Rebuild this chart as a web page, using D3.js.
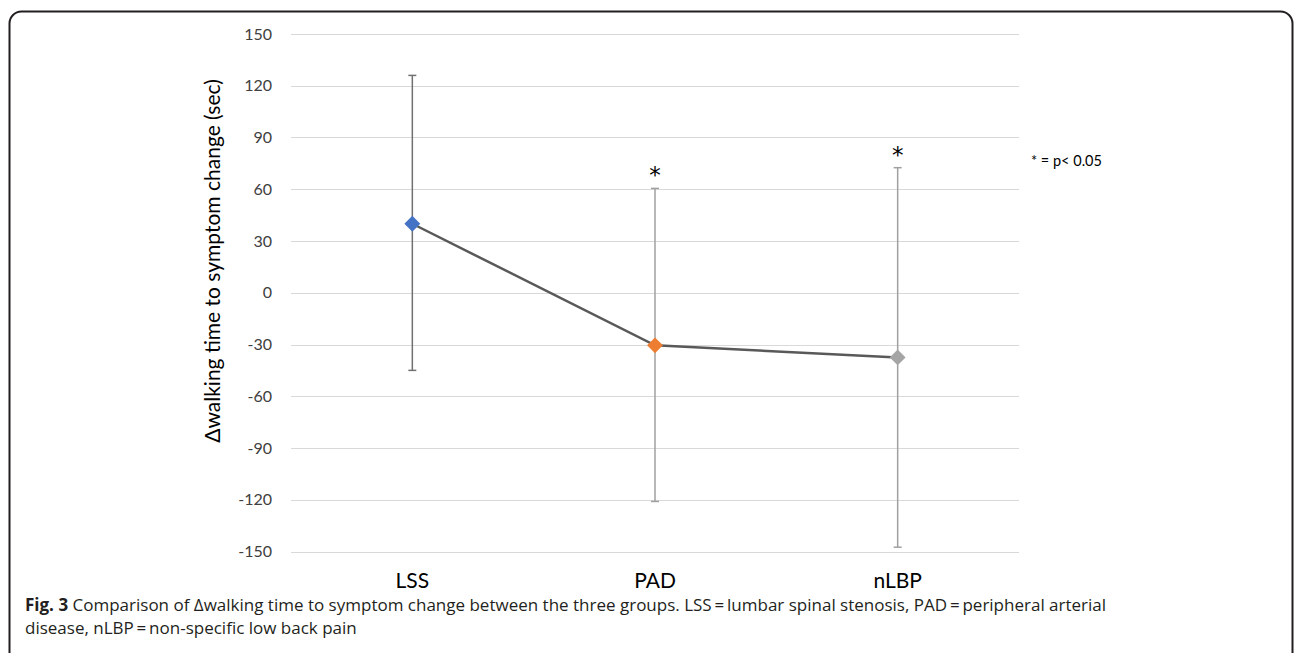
<!DOCTYPE html>
<html>
<head>
<meta charset="utf-8">
<script src="https://cdn.jsdelivr.net/npm/d3@7"></script>
<style>
 body { margin: 0; background: #fff; }
 svg { display: block; }
</style>
</head>
<body>
<div id="chart"></div>
<script>
// groups and their mean / error bar ends (sec)
var groups = ['LSS', 'PAD', 'nLBP'];
var means = [40, -30.5, -37.5];
var errHigh = [126, 60.5, 72.5];
var errLow = [-45, -121, -147.5];
var signif = [false, true, true];
var markerColors = ['#4472C4', '#ED7D31', '#A5A5A5'];
var yTicks = [150, 120, 90, 60, 30, 0, -30, -60, -90, -120, -150];

var width = 1295, height = 653;
var plot = {left: 291, right: 1019, top: 34, bottom: 551.5};
var chartFont = 'Lato, "Open Sans", sans-serif';

var svg = d3.select('#chart').append('svg')
 .attr('width', width)
 .attr('height', height);

// rounded frame, open at the bottom edge of the picture
svg.append('rect')
 .attr('x', 9.5).attr('y', 11.5)
 .attr('width', 1283).attr('height', 700)
 .attr('rx', 12).attr('ry', 12)
 .style('fill', 'none').style('stroke', '#231f20').style('stroke-width', 2);

var x = d3.scaleBand().domain(groups).range([plot.left, plot.right]);
var y = d3.scaleLinear().domain([-150, 150]).range([plot.bottom, plot.top]);

// gridlines + tick labels (plain hyphen for negatives, as in the original)
var yAxis = d3.axisLeft(y).tickValues(yTicks).tickSize(0).tickPadding(19)
 .tickFormat(function(d){ return String(d); });
var gy = svg.append('g').attr('transform', 'translate(' + plot.left + ',0)').call(yAxis);
gy.select('.domain').remove();
gy.selectAll('text').style('font-family', chartFont).style('font-size', '16px').style('fill', '#404040');

svg.append('g').selectAll('line').data(yTicks).enter().append('line')
 .attr('x1', plot.left).attr('x2', plot.right)
 .attr('y1', function(d){ return Math.round(y(d)) + 0.5; })
 .attr('y2', function(d){ return Math.round(y(d)) + 0.5; })
 .style('stroke', '#d9d9d9').style('stroke-width', 1.2);

// category labels
var xAxis = d3.axisBottom(x).tickSize(0).tickPadding(22);
var gx = svg.append('g').attr('transform', 'translate(0,' + plot.bottom + ')').call(xAxis);
gx.select('.domain').remove();
gx.selectAll('text').style('font-family', chartFont).style('font-size', '21px').style('fill', '#000');

// y axis title
svg.append('text')
 .attr('transform', 'translate(220,261) rotate(-90)')
 .attr('text-anchor', 'middle')
 .style('font-family', chartFont).style('font-size', '21px').style('fill', '#000')
 .text('\u0394walking time to symptom change (sec)');

function cx(i){ return x(groups[i]) + x.bandwidth() / 2; }

// error bars
var eb = svg.append('g').selectAll('g').data(groups).enter().append('g');
eb.append('line')
 .attr('x1', function(d, i){ return cx(i); }).attr('x2', function(d, i){ return cx(i); })
 .attr('y1', function(d, i){ return y(errHigh[i]); }).attr('y2', function(d, i){ return y(errLow[i]); })
 .style('stroke', function(d, i){ return i == 0 ? '#707070' : '#a0a0a0'; }).style('stroke-width', 1.5);
eb.append('line')
 .attr('x1', function(d, i){ return cx(i) - 4; }).attr('x2', function(d, i){ return cx(i) + 4; })
 .attr('y1', function(d, i){ return y(errHigh[i]); }).attr('y2', function(d, i){ return y(errHigh[i]); })
 .style('stroke', function(d, i){ return i == 0 ? '#707070' : '#a0a0a0'; }).style('stroke-width', 1.5);
eb.append('line')
 .attr('x1', function(d, i){ return cx(i) - 4; }).attr('x2', function(d, i){ return cx(i) + 4; })
 .attr('y1', function(d, i){ return y(errLow[i]); }).attr('y2', function(d, i){ return y(errLow[i]); })
 .style('stroke', function(d, i){ return i == 0 ? '#707070' : '#a0a0a0'; }).style('stroke-width', 1.5);

// mean line
var line = d3.line().x(function(d, i){ return cx(i); }).y(function(d){ return y(d); });
svg.append('path').datum(means)
 .attr('d', line)
 .style('fill', 'none').style('stroke', '#595959').style('stroke-width', 2.5);

// diamond markers
var diamond = d3.symbol().type(d3.symbolDiamond2).size(160);
svg.append('g').selectAll('path').data(means).enter().append('path')
 .attr('d', diamond)
 .attr('transform', function(d, i){ return 'translate(' + cx(i) + ',' + y(d) + ')'; })
 .style('fill', function(d, i){ return markerColors[i]; });

// significance stars
svg.append('g').selectAll('text').data(groups.filter(function(d, i){ return signif[i]; })).enter().append('text')
 .attr('x', function(d){ return x(d) + x.bandwidth() / 2; })
 .attr('y', function(d){ var i = groups.indexOf(d); return y(errHigh[i]) - 5; })
 .attr('text-anchor', 'middle')
 .style('font-family', '"DejaVu Sans", sans-serif').style('font-size', '23px')
 .text('*');

svg.append('text')
 .attr('x', 1031).attr('y', 166)
 .style('font-family', chartFont).style('font-size', '14.5px')
 .text('* = p< 0.05');

// caption
var caption = svg.append('text')
 .style('font-family', '"Open Sans", "Noto Sans", sans-serif').style('font-size', '17px').style('fill', '#231f20');
var l1 = caption.append('tspan').attr('x', 25).attr('y', 611);
l1.append('tspan').style('font-weight', 'bold').text('Fig. 3');
l1.append('tspan').text(' Comparison of \u0394walking time to symptom change between the three groups. LSS\u2009=\u2009lumbar spinal stenosis, PAD\u2009=\u2009peripheral arterial');
caption.append('tspan').attr('x', 25).attr('y', 634)
 .text('disease, nLBP\u2009=\u2009non-specific low back pain');
</script>
</body>
</html>
